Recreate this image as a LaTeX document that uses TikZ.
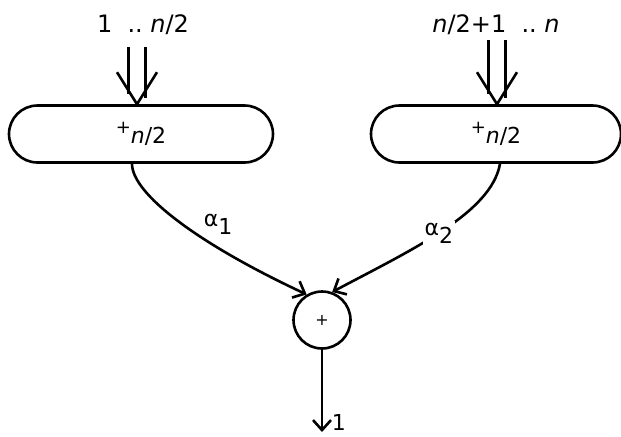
\documentclass[tikz,border=0pt]{standalone}
\usepackage{fontspec}
\setmainfont{DejaVu Sans}
\usetikzlibrary{arrows.meta,shapes,calc,positioning}

\begin{document}
\begin{tikzpicture}[x=0.5pt, y=0.5pt, line width=1.3pt,
    every node/.style={font=\fontsize{11}{13}\selectfont},
    adder/.style={draw, rectangle, rounded corners=14.25pt, minimum height=28.5pt, inner sep=0pt},
    sumnode/.style={draw, circle, minimum size=28.5pt, inner sep=0pt},
    flow/.style={-{Straight Barb[length=5pt,width=9pt]}}]
  % Define dimensions
  \def\gap{4.25pt}
  \useasboundingbox (0,0) rectangle (621,436);

  % Draw boxes
  \node[adder, minimum width=132pt] (lbox) at (141,302) {{\fontsize{9}{9}\selectfont+}\raisebox{-5pt}{\textit{n}/2}};
  \node[adder, minimum width=125pt] (rbox) at (496,302) {{\fontsize{9}{9}\selectfont+}\raisebox{-5pt}{\textit{n}/2}};
  \node[sumnode] (sum) at (322,116) {\fontsize{8}{9}\selectfont +};

  % Define points
  \coordinate (inL) at (137,389);
  \coordinate (inR) at (497,396);
  \coordinate (tipL) at ([xshift=-2pt]lbox.north);
  \coordinate (tipR) at ([xshift=0.5pt]rbox.north);
  \coordinate (out) at (322,4);

  % Label points
  \node[font=\fontsize{12}{14}\selectfont] (lin) at (143,411) {1\ \ ..\ \textit{n}/2};
  \node[font=\fontsize{12}{14}\selectfont] (rin) at (496,411) {\textit{n}/2+1\ \ ..\ \textit{n}};
  \node (a1) at (218,212) {α\raisebox{-4pt}{1}};
  \node[right] (one) at ([xshift=1pt,yshift=5pt]out) {1};

  % Double arrows into the boxes
  \foreach \top/\tip in {inL/tipL, inR/tipR} {
      \draw ([xshift=-\gap]\top) -- ($([xshift=-\gap]\top |- \tip)+(0,10)$);
      \draw ([xshift=\gap]\top) -- ($([xshift=\gap]\top |- \tip)+(0,6)$);
      \draw ([shift={(-10pt,16pt)}]\tip) -- (\tip) -- ([shift={(10pt,16pt)}]\tip);
  }

  \draw[flow] ([xshift=-4.5pt]lbox.south) .. controls +(-90:30) and +(155:120) .. (sum.121);
  \draw[flow] ([xshift=2pt]rbox.south) .. controls +(-100:50) and +(28:90) ..
      node[pos=0.52, fill=white, inner sep=1pt] (a2) {α\raisebox{-4pt}{2}} (sum.70);
  \draw[flow] (sum.south) -- (out);
\end{tikzpicture}
\end{document}
